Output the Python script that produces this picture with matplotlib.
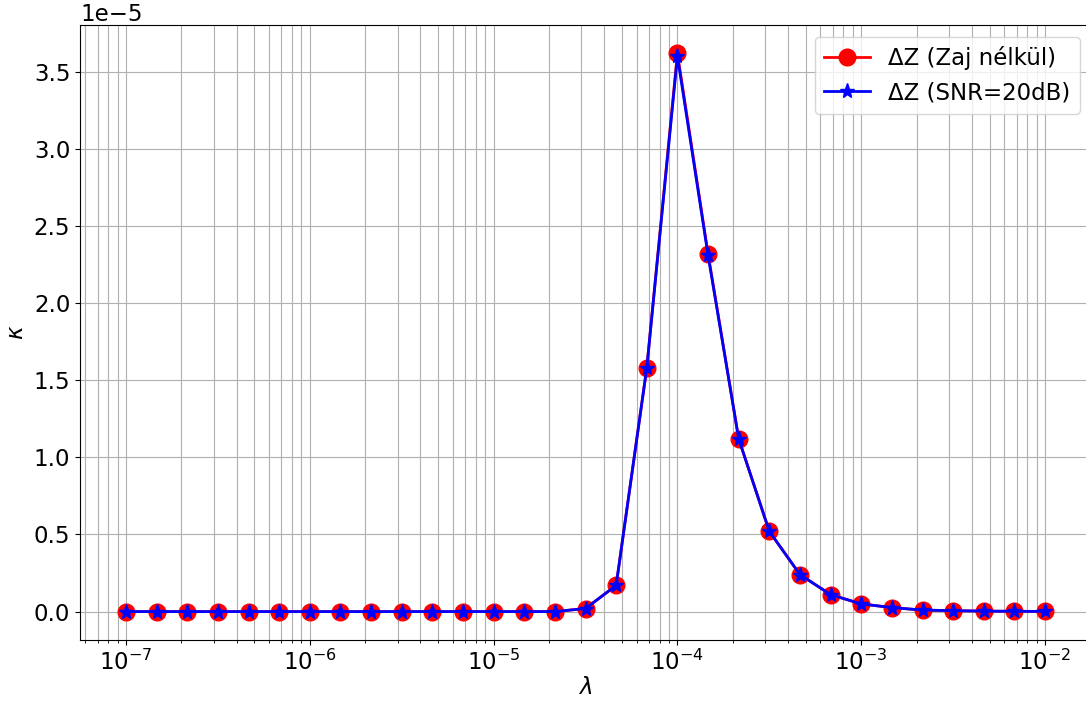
import numpy as np
import matplotlib
matplotlib.use('Agg')
import matplotlib.pyplot as plt

# lambda values: 6 points per decade, 1e-7 .. 1e-2
lam = np.logspace(-7, -2, 31)

# kappa (x1e-5)
kappa_clean = [0, 0, 0, 0, 0, 0, 0, 0, 0, 0, 0, 0, 0, 0, 0,
               0.02, 0.17, 1.58, 3.62, 2.32, 1.12, 0.52, 0.24, 0.11,
               0.05, 0.026, 0.01, 0.006, 0.003, 0.002, 0.001]
kappa_noisy = [0, 0, 0, 0, 0, 0, 0, 0, 0, 0, 0, 0, 0, 0, 0,
               0.02, 0.17, 1.58, 3.60, 2.31, 1.12, 0.52, 0.24, 0.11,
               0.05, 0.026, 0.01, 0.006, 0.003, 0.002, 0.001]

plt.rcParams['font.size'] = 16.5

fig, ax = plt.subplots(figsize=(10.86, 7.02), dpi=100)
ax.semilogx(lam, np.array(kappa_clean) * 1e-5, 'r-o', markersize=12, linewidth=2,
            label='ΔZ (Zaj nélkül)')
ax.semilogx(lam, np.array(kappa_noisy) * 1e-5, 'b-*', markersize=11, linewidth=2,
            label='ΔZ (SNR=20dB)')
ax.grid(True, which='both')
ax.set_xlabel(r'$\lambda$', labelpad=1)
ax.set_ylabel(r'$\kappa$')
ax.legend(loc='upper right')
# original image is cropped just inside the right spine
fig.subplots_adjust(left=0.0737, right=1.0046, top=0.964, bottom=0.089)
fig.savefig('out.png')
